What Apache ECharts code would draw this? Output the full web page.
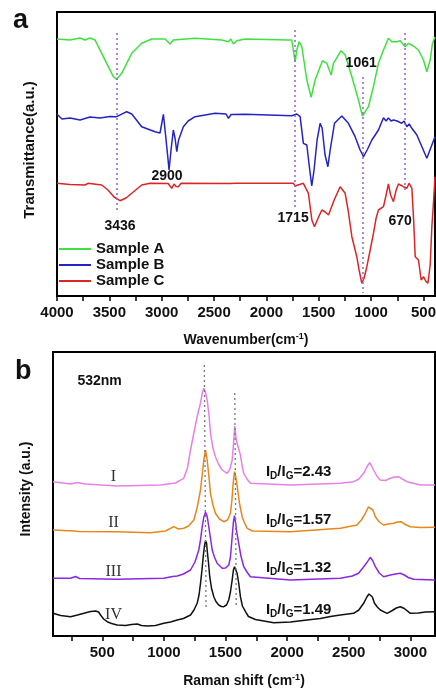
<!DOCTYPE html>
<html><head><meta charset="utf-8">
<script src="https://cdn.jsdelivr.net/npm/echarts@6/dist/echarts.min.js"></script>
<style>html,body{margin:0;padding:0;background:#fff}#c{width:436px;height:690px}</style>
</head><body><div id="c"></div>
<script>
// ---------- tick values ----------
const FTIR_TICKS = [4000,3750,3500,3250,3000,2750,2500,2250,2000,1750,1500,1250,1000,750,500];
const FTIR_LABELS = [4000,3500,3000,2500,2000,1500,1000,500];
const RAMAN_TICKS = [250,500,750,1000,1250,1500,1750,2000,2250,2500,2750,3000];
const RAMAN_LABELS = [500,1000,1500,2000,2500,3000];

// ---------- FTIR spectra [wavenumber, transmittance a.u.] ----------
const sampleA = [[4000,257],[3876,256],[3780,258],[3732,256],[3685,258],[3637,256],[3573,242.7],[3510,229.3],[3462,219.3],[3430,216.7],[3382,222.7],[3286,242.7],[3191,252.7],[3095,257],[2968,257],[2920,252],[2889,256],[2681,257.7],[2426,256],[2363,254.3],[2340,257],[2315,252],[2283,255.3],[2204,257],[1790,256],[1758,256],[1740,255],[1726,234.3],[1710,246],[1688,254.3],[1662,249.3],[1614,216],[1573,198.7],[1535,216],[1465,235.3],[1423,232.7],[1382,221],[1360,232.7],[1287,245.3],[1248,241],[1184,219.3],[1121,196],[1083,180],[1026,189.3],[978,209.3],[930,232.7],[882,246],[835,257.7],[802,254.3],[754,254.3],[723,255.3],[675,249.3],[643,252.7],[596,250],[548,246],[500,236],[468,224.3],[436,236],[414,252.7],[390,259]];
const sampleB = [[4000,181.7],[3952,177],[3876,178],[3780,176],[3685,179],[3589,178],[3494,179.5],[3430,179.3],[3334,184.3],[3286,182],[3191,169.3],[3064,164.3],[3016,163],[2984,181.7],[2963,161],[2939,136],[2930,126],[2911,146],[2889,166],[2873,158],[2856,144.3],[2839,156],[2793,169.3],[2748,175],[2681,179.3],[2490,182.7],[2385,182],[2363,177.7],[2337,181.5],[2204,181.7],[1758,180.3],[1710,182],[1678,179.3],[1647,152.7],[1614,151],[1592,131],[1567,110],[1545,126],[1516,156],[1487,172.7],[1468,168],[1440,141],[1413,129.3],[1391,146],[1350,172.7],[1280,180],[1217,172.7],[1153,159.3],[1105,146],[1073,139.3],[1038,146],[993,156],[930,166],[882,178.3],[857,175],[835,178],[809,175],[787,176],[751,175],[707,172.7],[685,175],[659,169.3],[637,172],[611,167.7],[563,161],[515,149.3],[468,137.7],[420,151],[390,159.3]];
const sampleC = [[4000,112.7],[3876,111.5],[3857,113],[3732,111],[3704,112.7],[3573,111],[3513,106],[3455,99],[3398,95.3],[3341,98],[3283,103],[3191,111],[3111,112.7],[2939,112.5],[2904,107.7],[2882,112],[2863,109.5],[2841,109.3],[2815,112.7],[2347,112.5],[2328,111.5],[2299,112.7],[1742,112.7],[1726,110],[1707,111.5],[1647,112.7],[1599,102.7],[1566,76],[1541,69.3],[1506,78],[1471,86],[1439,84],[1407,81],[1353,96],[1296,109.3],[1248,102.7],[1220,86],[1184,59.3],[1137,39.3],[1115,26],[1089,12.7],[1067,18],[1041,29.3],[1009,46],[978,62.7],[952,78],[930,86],[882,89.3],[857,101],[835,112],[814,101],[787,94.3],[761,106],[739,112],[691,109.3],[659,107.7],[637,112.7],[611,107.7],[594,76],[579,39.3],[548,36],[522,16],[500,19.3],[479,15],[458,12.7],[436,31],[420,69.3],[403,96],[390,119.3]];

// ---------- Raman spectra [shift, intensity a.u.] ----------
const ramanI = [[100,154.3],[243,152],[297,153.5],[364,152],[621,150],[973,151],[1094,153],[1161,157.7],[1191,168],[1216,186],[1243,203],[1270,219.3],[1297,233],[1311,242.7],[1324,247.7],[1337,244],[1351,236],[1366,221],[1378,202.7],[1398,188],[1418,179.3],[1443,172],[1473,166],[1513,162.7],[1536,167],[1554,176],[1564,191],[1575,210],[1585,198],[1594,192.7],[1607,191],[1621,181],[1635,170],[1648,162.7],[1674,157],[1702,152.7],[2027,151],[2432,152.7],[2540,154.3],[2582,157],[2621,162.7],[2647,169],[2670,173.3],[2686,170],[2702,166],[2728,160],[2756,156],[2797,155.5],[2838,157.7],[2870,159],[2905,159.3],[2935,157],[2973,154.3],[3081,151],[3200,151]];
const ramanII = [[100,106],[270,105],[283,106.5],[308,104.5],[621,104.3],[891,103.3],[1013,105],[1080,109.3],[1118,107],[1161,107.7],[1200,110],[1243,116],[1269,128],[1297,146],[1324,176],[1338,186],[1351,176],[1364,161],[1378,142.7],[1398,131],[1418,122.7],[1451,117],[1486,114.3],[1516,116],[1540,122.7],[1552,136],[1562,152.7],[1573,164.3],[1581,160],[1589,154.3],[1599,146],[1613,133],[1635,119.3],[1654,113],[1676,107.7],[1719,105],[2027,104.3],[2432,107.7],[2567,111],[2602,116],[2635,122.7],[2659,129],[2675,131],[2696,126],[2716,119.3],[2748,114],[2783,111],[2821,112],[2864,112.7],[2894,114],[2924,114.3],[2959,111.5],[3000,109.3],[3081,108.5],[3200,108.7]];
const ramanIII = [[100,57.7],[243,57.7],[283,59.5],[316,57.5],[621,56.7],[999,57.7],[1070,59.5],[1108,60],[1159,62],[1216,66],[1252,74],[1283,86],[1297,96],[1311,109.3],[1324,119],[1338,123.7],[1348,121],[1356,116],[1374,101],[1392,86],[1410,79],[1432,72.7],[1473,67.7],[1500,68],[1527,71],[1540,79],[1554,99.3],[1564,114],[1573,120.3],[1581,114],[1589,106],[1607,92.7],[1625,80],[1648,69.3],[1674,64],[1702,59.3],[2027,56],[2432,57.7],[2529,60],[2580,62.7],[2614,68],[2643,72.7],[2675,78.7],[2696,75],[2716,69.3],[2748,63],[2783,59.3],[2838,61],[2878,62],[2919,62.7],[2951,61],[2983,58.5],[3026,56.7],[3200,56]];
const ramanIV = [[100,22.7],[162,20.5],[243,19.3],[299,21],[351,22.7],[405,24.5],[445,25],[470,24],[486,21],[510,17],[540,14.3],[575,12.5],[621,11],[689,10.5],[737,11.5],[784,12],[818,10.5],[865,10],[932,10.5],[999,12.7],[1054,14],[1108,16],[1159,17.5],[1216,21],[1244,26],[1270,32.7],[1285,41],[1297,52.7],[1309,66],[1319,79.3],[1329,90],[1338,95.3],[1346,93],[1351,86],[1362,73],[1372,59.3],[1386,48],[1405,39.3],[1422,34.5],[1445,31],[1467,29.5],[1486,29.3],[1508,31],[1526,36],[1540,44],[1554,56],[1564,66],[1573,69.3],[1583,67.5],[1594,62.7],[1607,53],[1621,39.3],[1637,30],[1662,24.3],[1686,19.5],[1743,16.5],[1891,13.3],[2027,14],[2162,16],[2270,17.5],[2351,19.5],[2432,21],[2540,22.7],[2582,26],[2621,32.7],[2647,39],[2664,42],[2676,42.7],[2692,39],[2708,33],[2730,29.3],[2756,26],[2811,22.7],[2854,25.5],[2886,28],[2919,29.3],[2951,27.5],[3000,22.7],[3065,23],[3122,24],[3200,24.3]];

// ---------- annotations ----------
const ftirPeaks = [{t:'1061',c:[1095,233]},{t:'2900',c:[2949,120]},{t:'3436',c:[3398,70]},{t:'1715',c:[1745,78]},{t:'670',c:[723,75]}];
const ftirGuides = [[3430,263,83],[1726,266,89],[1083,219,3],[675,263,106]];
const ramanGuides = [[1328,271,1342,28],[1575,243,1587,31]];
const ramanNames = ['I','II','III','IV'];
const ramanNamePos = [[591,159],[591,113],[591,64],[591,21]];
const ratios = ['2.43','1.57','1.32','1.49'];
const ratioPos = [[1824,164],[1824,116],[1824,68],[1824,26]];

const FF = '"Liberation Sans", Arial, sans-serif';
const chart = echarts.init(document.getElementById('c'), null, {renderer:'canvas'});

function xAxisCommon(ticks, labels){
  return {
    type:'value', axisLine:{show:true, lineStyle:{color:'#000', width:2}},
    axisTick:{show:true, inside:false, length:5, customValues:ticks, lineStyle:{color:'#000', width:1.5}},
    axisLabel:{show:true, customValues:labels, margin:9, fontSize:15, fontWeight:'bold', color:'#111', fontFamily:FF,
      formatter: v => String(v)},
    splitLine:{show:false}, nameLocation:'middle',
    nameTextStyle:{fontFamily:FF, color:'#111', rich:{
      n:{fontSize:14, fontWeight:'bold', fontFamily:FF, color:'#111', lineHeight:16},
      s:{fontSize:9, fontWeight:'bold', fontFamily:FF, color:'#111', lineHeight:6, verticalAlign:'top'}}}
  };
}
const lineBase = {type:'line', showSymbol:false, symbol:'none', animation:false, smooth:false};
const ratioRich = {
  i:{fontSize:15, fontWeight:'bold', fontFamily:FF, color:'#111', lineHeight:18},
  s:{fontSize:10, fontWeight:'bold', fontFamily:FF, color:'#111', lineHeight:3, verticalAlign:'bottom'}
};

const option = {
  backgroundColor:'#fff', animation:false,
  grid:[
    {left:57, top:12, width:378, height:284, show:true, borderColor:'#000', borderWidth:2, backgroundColor:'transparent', containLabel:false, outerBoundsMode:'none'},
    {left:53, top:352, width:382, height:284, show:true, borderColor:'#000', borderWidth:2, backgroundColor:'transparent', containLabel:false, outerBoundsMode:'none'}
  ],
  xAxis:[
    Object.assign(xAxisCommon(FTIR_TICKS, FTIR_LABELS), {gridIndex:0, min:390, max:4000, inverse:true,
      name:'{n|Wavenumber(cm}{s|-1}{n|)}', nameGap:36}),
    Object.assign(xAxisCommon(RAMAN_TICKS, RAMAN_LABELS), {gridIndex:1, min:100, max:3200,
      name:'{n|Raman shift (cm}{s|-1}{n|)}', nameGap:37})
  ],
  yAxis:[
    {type:'value', gridIndex:0, min:0, max:284, axisLabel:{show:false}, axisTick:{show:false}, splitLine:{show:false},
     axisLine:{show:true, lineStyle:{color:'#000', width:2}},
     name:'Transmittance(a.u.)', nameLocation:'middle', nameGap:20, nameRotate:90,
     nameTextStyle:{fontSize:15, fontWeight:'bold', fontFamily:FF, color:'#111', padding:[0,0,0,8]}},
    {type:'value', gridIndex:1, min:0, max:284, axisLabel:{show:false}, axisTick:{show:false}, splitLine:{show:false},
     axisLine:{show:true, lineStyle:{color:'#000', width:2}},
     name:'Intensity (a.u.)', nameLocation:'middle', nameGap:20, nameRotate:90,
     nameTextStyle:{fontSize:14, fontWeight:'bold', fontFamily:FF, color:'#111', padding:[0,0,0,10]}}
  ],
  legend:{
    data:['Sample A','Sample B','Sample C'], orient:'vertical', left:59, top:241, padding:0,
    itemWidth:32, itemHeight:2, itemGap:0, icon:'rect',
    textStyle:{fontSize:15, fontWeight:'bold', fontFamily:FF, color:'#111', lineHeight:16}
  },
  series:[
    Object.assign({}, lineBase, {name:'Sample A', xAxisIndex:0, yAxisIndex:0, data:sampleA, color:'#3ee23e',
      lineStyle:{width:1.5, color:'#3ee23e'},
      markLine:{silent:true, symbol:['none','none'], label:{show:false}, animation:false,
        lineStyle:{type:[2,3], color:'#9a60c8', width:1.5},
        data: ftirGuides.map(g => [{coord:[g[0], g[1]]},{coord:[g[0], g[2]]}])},
      markPoint:{silent:true, symbol:'rect', symbolSize:1, itemStyle:{color:'rgba(0,0,0,0)'}, animation:false,
        label:{show:true, position:'inside', fontSize:14, fontWeight:'bold', fontFamily:FF, color:'#111'},
        data: ftirPeaks.map(p => ({coord:p.c, value:p.t, label:{formatter:p.t}}))}
    }),
    Object.assign({}, lineBase, {name:'Sample B', xAxisIndex:0, yAxisIndex:0, data:sampleB, color:'#2424c4',
      lineStyle:{width:1.5, color:'#2424c4'}}),
    Object.assign({}, lineBase, {name:'Sample C', xAxisIndex:0, yAxisIndex:0, data:sampleC, color:'#dc2626',
      lineStyle:{width:1.5, color:'#dc2626'}}),
    Object.assign({}, lineBase, {name:'I', xAxisIndex:1, yAxisIndex:1, data:ramanI, color:'#e682e6',
      lineStyle:{width:1.5, color:'#e682e6'},
      markLine:{silent:true, symbol:['none','none'], label:{show:false}, animation:false,
        lineStyle:{type:[2,3], color:'#777', width:1.3},
        data: ramanGuides.map(g => [{coord:[g[0], g[1]]},{coord:[g[2], g[3]]}])},
      markPoint:{silent:true, symbol:'rect', symbolSize:1, itemStyle:{color:'rgba(0,0,0,0)'}, animation:false,
        data: [{coord:[478,255], label:{show:true, position:'inside', formatter:'532nm', fontSize:14, fontWeight:'bold', fontFamily:FF, color:'#111'}}]
          .concat(ramanNames.map((n,i) => ({coord:ramanNamePos[i], label:{show:true, position:'inside', formatter:n, fontSize:16, fontFamily:'"Liberation Serif", "Times New Roman", serif', color:'#333'}})))
          .concat(ratios.map((r,i) => ({coord:ratioPos[i], label:{show:true, position:'right', distance:0, formatter:'{i|I}{s|D}{i|/I}{s|G}{i|='+r+'}', rich:ratioRich}})))}
    }),
    Object.assign({}, lineBase, {name:'II', xAxisIndex:1, yAxisIndex:1, data:ramanII, color:'#e8861c',
      lineStyle:{width:1.5, color:'#e8861c'}}),
    Object.assign({}, lineBase, {name:'III', xAxisIndex:1, yAxisIndex:1, data:ramanIII, color:'#8a28e0',
      lineStyle:{width:1.5, color:'#8a28e0'}}),
    Object.assign({}, lineBase, {name:'IV', xAxisIndex:1, yAxisIndex:1, data:ramanIV, color:'#111',
      lineStyle:{width:1.5, color:'#111'}})
  ],
  graphic:[
    {type:'text', left:13, top:7, style:{text:'a', font:'bold 27px "Liberation Sans", Arial, sans-serif', fill:'#111'}},
    {type:'text', left:15, top:358, style:{text:'b', font:'bold 27px "Liberation Sans", Arial, sans-serif', fill:'#111'}}
  ]
};
chart.setOption(option);
</script></body></html>
